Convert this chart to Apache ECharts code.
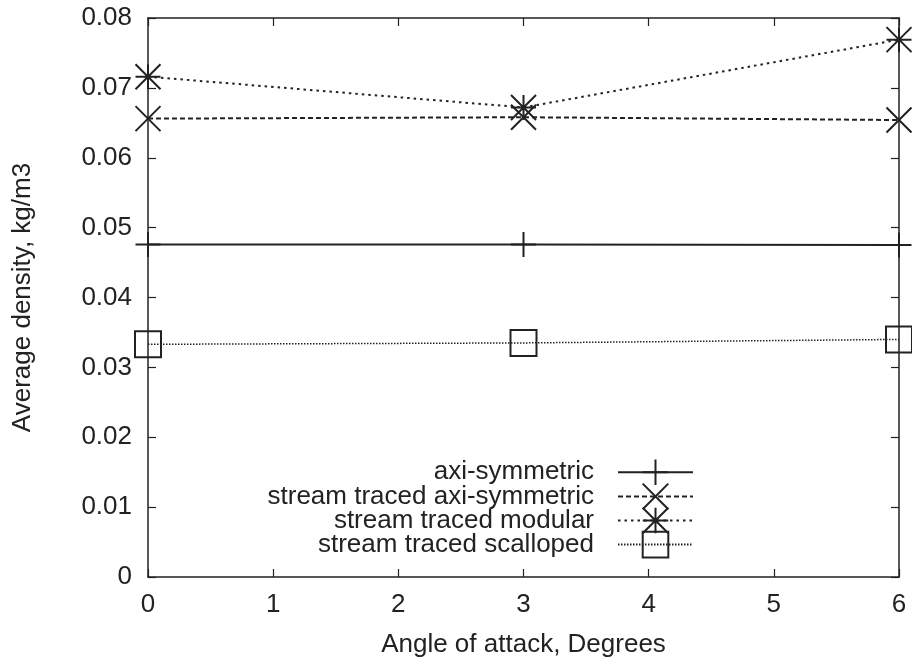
<!DOCTYPE html>
<html>
<head>
<meta charset="utf-8">
<script src="https://cdn.jsdelivr.net/npm/echarts@6/dist/echarts.min.js"></script>
<style>html,body{margin:0;padding:0;background:#fff}#c{width:912px;height:667px}</style>
</head>
<body>
<div id="c"></div>
<script>
const angles = [0, 3, 6];
const seriesNames = ['axi-symmetric', 'stream traced axi-symmetric', 'stream traced modular', 'stream traced scalloped'];
const axiSymmetric = [0.0476, 0.0476, 0.0475];
const streamAxiSymmetric = [0.0656, 0.0658, 0.0654];
const streamModular = [0.0716, 0.0672, 0.0769];
const streamScalloped = [0.0333, 0.0335, 0.0340];
const yTicks = { min: 0, max: 0.08, interval: 0.01 };
const xTicks = { min: 0, max: 6, interval: 1 };

const INK = '#222';
const FONT = 'Liberation Sans';
const FS = 26;

const symPlus = 'path://M0,-1L0,1M-1,0L1,0';
const symX = 'path://M-1,-1L1,1M-1,1L1,-1';
const symStar = 'path://M-1,-1L1,1M-1,1L1,-1M0,-1L0,1M-1,0L1,0';
const symSquare = 'path://M-1,-1L1,-1L1,1L-1,1Z';

function pairs(vals) { return angles.map((a, i) => [a, vals[i]]); }

function mkSeries(name, vals, symbol, size, lineType, width) {
  return {
    name: name,
    type: 'line',
    data: pairs(vals),
    symbol: symbol,
    symbolSize: size,
    clip: false,
    showAllSymbol: true,
    itemStyle: { color: 'none', borderColor: INK, borderWidth: 2 },
    lineStyle: { color: INK, width: width, type: lineType },
    emphasis: { disabled: true },
    animation: false
  };
}

const chart = echarts.init(document.getElementById('c'), null, { renderer: 'canvas' });
function axisCommon() {
  return {
    axisLine: { show: true, onZero: false, lineStyle: { color: INK, width: 1.5 } },
    axisTick: { show: true, inside: true, length: 8, lineStyle: { color: INK, width: 1.2 } },
    splitLine: { show: false }
  };
}
chart.setOption({
  animation: false,
  backgroundColor: '#fff',
  textStyle: { fontFamily: FONT },
  grid: { left: 148, right: 13, top: 18, bottom: 90, containLabel: false },
  legend: {
    orient: 'vertical',
    align: 'right',
    right: 213,
    top: 452,
    itemWidth: 75,
    itemHeight: 32,
    itemGap: -6.5,
    selectedMode: false,
    data: seriesNames,
    textStyle: { fontFamily: FONT, fontSize: FS, color: INK, padding: [0, 19, 0, 0] }
  },
  xAxis: [
    Object.assign({
      type: 'value', position: 'bottom', min: xTicks.min, max: xTicks.max, interval: xTicks.interval,
      name: 'Angle of attack, Degrees', nameLocation: 'middle', nameGap: 55,
      nameTextStyle: { fontFamily: FONT, fontSize: FS, color: INK },
      axisLabel: { show: true, margin: 15, fontFamily: FONT, fontSize: FS, color: INK }
    }, axisCommon()),
    Object.assign({
      type: 'value', position: 'top', min: xTicks.min, max: xTicks.max, interval: xTicks.interval,
      axisLabel: { show: false }
    }, axisCommon())
  ],
  yAxis: [
    Object.assign({
      type: 'value', position: 'left', min: yTicks.min, max: yTicks.max, interval: yTicks.interval,
      name: 'Average density, kg/m3', nameLocation: 'middle', nameGap: 112, nameRotate: 90,
      nameTextStyle: { fontFamily: FONT, fontSize: FS, color: INK },
      axisLabel: { show: true, margin: 16, fontFamily: FONT, fontSize: FS, color: INK }
    }, axisCommon()),
    Object.assign({
      type: 'value', position: 'right', min: yTicks.min, max: yTicks.max, interval: yTicks.interval,
      axisLabel: { show: false }
    }, axisCommon())
  ],
  series: [
    mkSeries(seriesNames[0], axiSymmetric, symPlus, 25, 'solid', 2),
    mkSeries(seriesNames[1], streamAxiSymmetric, symX, 25, [5, 3], 2),
    mkSeries(seriesNames[2], streamModular, symStar, 25, [2.5, 4], 2),
    mkSeries(seriesNames[3], streamScalloped, symSquare, 26, [1.5, 1.5], 1.5)
  ]
});
</script>
</body>
</html>
